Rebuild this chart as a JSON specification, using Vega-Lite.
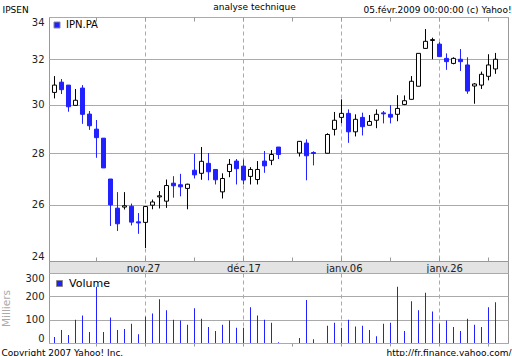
{
  "$schema": "https://vega.github.io/schema/vega-lite/v6.json",
  "padding": {"left": 0, "top": 2, "right": 0, "bottom": 0},
  "background": "white",
  "config": {"font": "DejaVu Sans", "view": {"stroke": "#999999"}},
  "bounds": "flush",
  "spacing": 0,
  "resolve": {"scale": {"color": "independent", "fill": "independent"}, "legend": {"color": "independent", "fill": "independent"}},
  "title": {"text": "http://fr.finance.yahoo.com/", "orient": "bottom", "anchor": "end", "frame": "bounds", "fontSize": 9, "fontWeight": "normal", "color": "#000000", "baseline": "alphabetic", "offset": -2},
  "datasets": {
    "px": [
      {"date": "2008-11-10", "open": 30.53, "high": 31.25, "low": 30.27, "close": 30.85, "volume": 26},
      {"date": "2008-11-11", "open": 30.98, "high": 31.12, "low": 30.46, "close": 30.65, "volume": 56},
      {"date": "2008-11-12", "open": 30.85, "high": 30.85, "low": 29.70, "close": 29.91, "volume": 34},
      {"date": "2008-11-13", "open": 29.97, "high": 30.68, "low": 29.97, "close": 30.19, "volume": 100},
      {"date": "2008-11-14", "open": 30.72, "high": 30.85, "low": 29.19, "close": 29.59, "volume": 118},
      {"date": "2008-11-17", "open": 29.60, "high": 29.73, "low": 28.94, "close": 29.11, "volume": 47},
      {"date": "2008-11-18", "open": 28.97, "high": 29.35, "low": 27.81, "close": 28.62, "volume": 241},
      {"date": "2008-11-19", "open": 28.60, "high": 28.60, "low": 27.41, "close": 27.41, "volume": 47},
      {"date": "2008-11-20", "open": 26.98, "high": 26.98, "low": 25.23, "close": 26.00, "volume": 109},
      {"date": "2008-11-21", "open": 25.88, "high": 26.48, "low": 25.05, "close": 25.31, "volume": 56},
      {"date": "2008-11-24", "open": 25.92, "high": 26.48, "low": 25.83, "close": 25.97, "volume": 60},
      {"date": "2008-11-25", "open": 25.95, "high": 26.05, "low": 25.25, "close": 25.37, "volume": 82},
      {"date": "2008-11-26", "open": 25.38, "high": 25.70, "low": 24.95, "close": 25.34, "volume": 38},
      {"date": "2008-11-27", "open": 25.36, "high": 25.96, "low": 24.45, "close": 25.94, "volume": 113},
      {"date": "2008-11-28", "open": 25.99, "high": 26.20, "low": 25.84, "close": 26.11, "volume": 126},
      {"date": "2008-12-01", "open": 26.30, "high": 26.52, "low": 25.87, "close": 26.34, "volume": 188},
      {"date": "2008-12-02", "open": 26.14, "high": 26.96, "low": 25.89, "close": 26.73, "volume": 140},
      {"date": "2008-12-03", "open": 26.82, "high": 27.09, "low": 26.27, "close": 26.72, "volume": 100},
      {"date": "2008-12-04", "open": 26.76, "high": 27.18, "low": 26.32, "close": 26.68, "volume": 96},
      {"date": "2008-12-05", "open": 26.62, "high": 26.80, "low": 25.84, "close": 26.78, "volume": 78},
      {"date": "2008-12-08", "open": 27.32, "high": 27.97, "low": 27.00, "close": 27.14, "volume": 149},
      {"date": "2008-12-09", "open": 27.20, "high": 28.24, "low": 26.95, "close": 27.67, "volume": 104},
      {"date": "2008-12-10", "open": 27.59, "high": 28.00, "low": 26.93, "close": 27.26, "volume": 69},
      {"date": "2008-12-11", "open": 27.35, "high": 27.35, "low": 26.77, "close": 26.95, "volume": 51},
      {"date": "2008-12-12", "open": 26.49, "high": 27.20, "low": 26.24, "close": 27.00, "volume": 78},
      {"date": "2008-12-15", "open": 27.27, "high": 27.76, "low": 27.05, "close": 27.55, "volume": 96},
      {"date": "2008-12-16", "open": 27.68, "high": 27.76, "low": 26.77, "close": 27.38, "volume": 65},
      {"date": "2008-12-17", "open": 27.48, "high": 27.74, "low": 26.77, "close": 26.94, "volume": 65},
      {"date": "2008-12-18", "open": 27.08, "high": 27.44, "low": 26.77, "close": 27.35, "volume": 153},
      {"date": "2008-12-19", "open": 26.96, "high": 27.68, "low": 26.77, "close": 27.35, "volume": 118},
      {"date": "2008-12-22", "open": 27.68, "high": 28.08, "low": 27.22, "close": 27.49, "volume": 100},
      {"date": "2008-12-23", "open": 27.71, "high": 28.12, "low": 27.52, "close": 27.94, "volume": 87},
      {"date": "2008-12-24", "open": 28.24, "high": 28.24, "low": 27.76, "close": 27.94, "volume": 3},
      {"date": "2008-12-29", "open": 28.00, "high": 28.47, "low": 27.86, "close": 28.47, "volume": 21},
      {"date": "2008-12-30", "open": 28.40, "high": 28.55, "low": 26.93, "close": 27.89, "volume": 184},
      {"date": "2008-12-31", "open": 28.02, "high": 28.07, "low": 27.51, "close": 27.98, "volume": 16},
      {"date": "2009-01-02", "open": 27.99, "high": 28.80, "low": 27.99, "close": 28.75, "volume": 74},
      {"date": "2009-01-05", "open": 28.96, "high": 29.69, "low": 28.71, "close": 29.34, "volume": 87},
      {"date": "2009-01-06", "open": 29.46, "high": 30.23, "low": 29.22, "close": 29.63, "volume": 65},
      {"date": "2009-01-07", "open": 29.63, "high": 29.80, "low": 28.41, "close": 28.86, "volume": 100},
      {"date": "2009-01-08", "open": 28.86, "high": 29.59, "low": 28.67, "close": 29.38, "volume": 71},
      {"date": "2009-01-09", "open": 29.46, "high": 29.66, "low": 28.71, "close": 29.07, "volume": 74},
      {"date": "2009-01-12", "open": 29.13, "high": 29.56, "low": 29.13, "close": 29.29, "volume": 56},
      {"date": "2009-01-13", "open": 29.34, "high": 29.80, "low": 29.01, "close": 29.59, "volume": 29},
      {"date": "2009-01-14", "open": 29.65, "high": 29.73, "low": 29.21, "close": 29.61, "volume": 82},
      {"date": "2009-01-15", "open": 29.59, "high": 29.98, "low": 29.21, "close": 29.47, "volume": 87},
      {"date": "2009-01-16", "open": 29.59, "high": 30.41, "low": 29.30, "close": 29.84, "volume": 241},
      {"date": "2009-01-19", "open": 30.01, "high": 30.40, "low": 29.98, "close": 30.17, "volume": 51},
      {"date": "2009-01-20", "open": 30.23, "high": 31.25, "low": 30.23, "close": 31.02, "volume": 179},
      {"date": "2009-01-21", "open": 30.80, "high": 32.28, "low": 30.80, "close": 32.28, "volume": 140},
      {"date": "2009-01-22", "open": 32.51, "high": 33.42, "low": 32.51, "close": 32.84, "volume": 215},
      {"date": "2009-01-23", "open": 32.88, "high": 33.01, "low": 32.01, "close": 32.92, "volume": 135},
      {"date": "2009-01-26", "open": 32.71, "high": 32.80, "low": 32.13, "close": 32.13, "volume": 82},
      {"date": "2009-01-27", "open": 32.05, "high": 32.28, "low": 31.53, "close": 31.90, "volume": 96},
      {"date": "2009-01-28", "open": 31.82, "high": 32.10, "low": 31.78, "close": 32.05, "volume": 69},
      {"date": "2009-01-29", "open": 32.01, "high": 32.48, "low": 31.48, "close": 31.90, "volume": 51},
      {"date": "2009-01-30", "open": 31.75, "high": 32.10, "low": 30.47, "close": 30.59, "volume": 104},
      {"date": "2009-02-02", "open": 30.81, "high": 30.94, "low": 30.04, "close": 30.90, "volume": 78},
      {"date": "2009-02-03", "open": 30.85, "high": 31.45, "low": 30.68, "close": 31.33, "volume": 69},
      {"date": "2009-02-04", "open": 31.24, "high": 32.24, "low": 31.06, "close": 31.75, "volume": 153},
      {"date": "2009-02-05", "open": 31.57, "high": 32.30, "low": 31.35, "close": 32.01, "volume": 175}
    ]
  },
  "vconcat": [
    {
      "width": 459,
      "height": 244,
      "data": {"name": "px"},
      "title": {"text": "analyse technique", "anchor": "middle", "frame": "group", "fontSize": 9, "fontWeight": "normal", "baseline": "alphabetic", "offset": -14, "dx": -24, "color": "#000000"},
      "resolve": {"axis": {"x": "independent"}},
      "layer": [
        {
          "mark": {"type": "rule", "strokeWidth": 1},
          "encoding": {
            "x": {"field": "date", "type": "ordinal",
              "scale": {"domain": ["2008-11-10","2008-11-11","2008-11-12","2008-11-13","2008-11-14","2008-11-17","2008-11-18","2008-11-19","2008-11-20","2008-11-21","2008-11-24","2008-11-25","2008-11-26","2008-11-27","2008-11-28","2008-12-01","2008-12-02","2008-12-03","2008-12-04","2008-12-05","2008-12-08","2008-12-09","2008-12-10","2008-12-11","2008-12-12","2008-12-15","2008-12-16","2008-12-17","2008-12-18","2008-12-19","2008-12-22","2008-12-23","2008-12-24","2008-12-25","2008-12-26","2008-12-29","2008-12-30","2008-12-31","2009-01-01","2009-01-02","2009-01-05","2009-01-06","2009-01-07","2009-01-08","2009-01-09","2009-01-12","2009-01-13","2009-01-14","2009-01-15","2009-01-16","2009-01-19","2009-01-20","2009-01-21","2009-01-22","2009-01-23","2009-01-26","2009-01-27","2009-01-28","2009-01-29","2009-01-30","2009-02-02","2009-02-03","2009-02-04","2009-02-05"], "paddingInner": 0, "paddingOuter": 0.7857, "align": 0.1818},
              "axis": {"orient": "bottom", "values": ["2008-11-18","2008-11-27","2008-12-08","2008-12-17","2008-12-26","2009-01-06","2009-01-15","2009-01-26","2009-02-04"], "labels": false, "domain": false, "ticks": true, "tickSize": -4, "tickColor": "#999999", "bandPosition": 0.5, "grid": true, "gridColor": "#aaaaaa", "gridDash": [4, 3], "gridOpacity": {"condition": {"test": "indexof(['2008-11-27','2008-12-17','2009-01-06','2009-01-26'], datum.value) >= 0", "value": 1}, "value": 0}, "title": null}},
            "y": {"field": "low", "type": "quantitative",
              "scale": {"type": "log", "domain": [24, 34], "nice": false},
              "axis": {"values": [24, 26, 28, 30, 32, 34], "format": "d", "ticks": false, "domain": false, "labelPadding": 5, "labelFontSize": 10, "labelColor": "#222222", "labelFlush": true, "grid": true, "gridColor": "#aaaaaa", "title": "IPSEN", "titleAngle": 0, "titleAlign": "left", "titleBaseline": "alphabetic", "titleX": -47, "titleY": -5, "titleFontSize": 9, "titleFontWeight": "normal", "titleColor": "#000000"}},
            "y2": {"field": "high"},
            "stroke": {"condition": {"test": "datum.close < datum.open", "value": "#2121ff"}, "value": "#000000"}
          }
        },
        {
          "mark": {"type": "bar", "width": 4, "strokeWidth": 1},
          "encoding": {
            "x": {"field": "date", "type": "ordinal",
              "axis": {"orient": "top", "values": ["2008-11-18","2008-11-27","2008-12-08","2008-12-17","2008-12-26","2009-01-06","2009-01-15","2009-01-26","2009-02-04"], "labels": false, "domain": false, "ticks": true, "tickSize": -4, "tickColor": "#999999", "bandPosition": 0.5, "grid": false, "title": "05.févr.2009 00:00:00 (c) Yahoo!", "titleX": 462, "titleY": -5, "titleAlign": "right", "titleAnchor": "end", "titleBaseline": "alphabetic", "titleFontSize": 9, "titleFontWeight": "normal", "titleColor": "#000000"}},
            "y": {"field": "open", "type": "quantitative"},
            "y2": {"field": "close"},
            "fill": {"condition": {"test": "datum.close < datum.open", "datum": "IPN.PA", "type": "nominal", "scale": {"range": ["#2121ff"]},
              "legend": {"title": null, "orient": "top-left", "offset": 3, "padding": 0, "symbolType": "square", "symbolSize": 36, "symbolStrokeColor": "#888888", "symbolStrokeWidth": 1, "labelFontSize": 10, "labelColor": "#000000", "labelOffset": 4}}, "value": "#ffffff"},
            "stroke": {"condition": {"test": "datum.close < datum.open", "value": "#2121ff"}, "value": "#000000"}
          }
        }
      ]
    },
    {
      "width": 459,
      "height": 12,
      "view": {"fill": "#e3e3e3", "stroke": "#999999"},
      "data": {"values": [
        {"date": "2008-11-27", "label": "nov.27"},
        {"date": "2008-12-17", "label": "déc.17"},
        {"date": "2009-01-06", "label": "janv.06"},
        {"date": "2009-01-26", "label": "janv.26"}
      ]},
      "mark": {"type": "text", "fontSize": 10, "baseline": "alphabetic", "dy": 5, "color": "#222222"},
      "encoding": {
        "x": {"field": "date", "type": "ordinal",
          "scale": {"domain": ["2008-11-10","2008-11-11","2008-11-12","2008-11-13","2008-11-14","2008-11-17","2008-11-18","2008-11-19","2008-11-20","2008-11-21","2008-11-24","2008-11-25","2008-11-26","2008-11-27","2008-11-28","2008-12-01","2008-12-02","2008-12-03","2008-12-04","2008-12-05","2008-12-08","2008-12-09","2008-12-10","2008-12-11","2008-12-12","2008-12-15","2008-12-16","2008-12-17","2008-12-18","2008-12-19","2008-12-22","2008-12-23","2008-12-24","2008-12-25","2008-12-26","2008-12-29","2008-12-30","2008-12-31","2009-01-01","2009-01-02","2009-01-05","2009-01-06","2009-01-07","2009-01-08","2009-01-09","2009-01-12","2009-01-13","2009-01-14","2009-01-15","2009-01-16","2009-01-19","2009-01-20","2009-01-21","2009-01-22","2009-01-23","2009-01-26","2009-01-27","2009-01-28","2009-01-29","2009-01-30","2009-02-02","2009-02-03","2009-02-04","2009-02-05"], "paddingInner": 0, "paddingOuter": 0.7857, "align": 0.1818},
          "axis": null},
        "text": {"field": "label"}
      }
    },
    {
      "width": 459,
      "height": 70,
      "data": {"name": "px"},
      "mark": {"type": "bar", "width": 1},
      "encoding": {
        "x": {"field": "date", "type": "ordinal",
          "scale": {"domain": ["2008-11-10","2008-11-11","2008-11-12","2008-11-13","2008-11-14","2008-11-17","2008-11-18","2008-11-19","2008-11-20","2008-11-21","2008-11-24","2008-11-25","2008-11-26","2008-11-27","2008-11-28","2008-12-01","2008-12-02","2008-12-03","2008-12-04","2008-12-05","2008-12-08","2008-12-09","2008-12-10","2008-12-11","2008-12-12","2008-12-15","2008-12-16","2008-12-17","2008-12-18","2008-12-19","2008-12-22","2008-12-23","2008-12-24","2008-12-25","2008-12-26","2008-12-29","2008-12-30","2008-12-31","2009-01-01","2009-01-02","2009-01-05","2009-01-06","2009-01-07","2009-01-08","2009-01-09","2009-01-12","2009-01-13","2009-01-14","2009-01-15","2009-01-16","2009-01-19","2009-01-20","2009-01-21","2009-01-22","2009-01-23","2009-01-26","2009-01-27","2009-01-28","2009-01-29","2009-01-30","2009-02-02","2009-02-03","2009-02-04","2009-02-05"], "paddingInner": 0, "paddingOuter": 0.7857, "align": 0.1818},
          "axis": {"orient": "bottom", "values": ["2008-11-18","2008-11-27","2008-12-08","2008-12-17","2008-12-26","2009-01-06","2009-01-15","2009-01-26","2009-02-04"], "labels": false, "domain": false, "ticks": true, "tickSize": 3, "tickColor": "#999999", "bandPosition": 0.5, "grid": true, "gridColor": "#aaaaaa", "gridDash": [4, 3], "gridOpacity": {"condition": {"test": "indexof(['2008-11-27','2008-12-17','2009-01-06','2009-01-26'], datum.value) >= 0", "value": 1}, "value": 0}, "title": "Copyright 2007 Yahoo! Inc.", "titleX": -48, "titleY": 12, "titleAlign": "left", "titleAnchor": "start", "titleBaseline": "alphabetic", "titleFontSize": 9, "titleFontWeight": "normal", "titleColor": "#000000"}},
        "y": {"field": "volume", "type": "quantitative",
          "scale": {"domain": [0, 300], "nice": false},
          "axis": {"values": [0, 100, 200, 300], "ticks": false, "domain": false, "labelPadding": 5, "labelFontSize": 10, "labelColor": "#222222", "labelFlush": true, "grid": true, "gridColor": "#aaaaaa", "title": "Milliers", "titleColor": "#aaaaaa", "titleFontSize": 10.5, "titleFontWeight": "normal", "titleX": -38, "titleY": 35, "titleAngle": -90, "titleAlign": "center", "titleBaseline": "bottom"}},
        "color": {"datum": "Volume", "type": "nominal", "scale": {"range": ["#2121ff"]},
          "legend": {"title": null, "orient": "top-left", "offset": 5, "padding": 0, "symbolType": "square", "symbolSize": 36, "symbolStrokeColor": "#888888", "symbolStrokeWidth": 1, "labelFontSize": 11, "labelColor": "#000000", "labelOffset": 4}}
      }
    }
  ]
}
